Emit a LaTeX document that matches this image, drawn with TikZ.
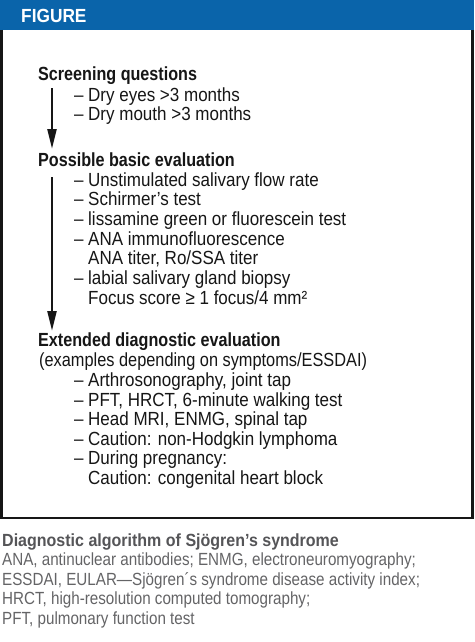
\documentclass[tikz,border=0pt]{standalone}
\usepackage{fontspec}
\setmainfont{Liberation Sans}
\newfontfamily\mreg[FakeStretch=0.895]{Liberation Sans}
\newfontfamily\mregn[FakeStretch=0.86]{Liberation Sans}
\newfontfamily\mbold[FakeStretch=0.85]{Liberation Sans}
\newfontfamily\creg[FakeStretch=0.863]{Liberation Sans}
\newfontfamily\cbold[FakeStretch=0.91]{Liberation Sans}
\usetikzlibrary{arrows.meta}
\definecolor{hdr}{RGB}{10,100,170}
\definecolor{ink}{RGB}{22,22,22}
\definecolor{capgray}{RGB}{100,100,102}
\definecolor{capdark}{RGB}{85,85,88}
\begin{document}
\begin{tikzpicture}[x=1pt,y=-1pt,
  txt/.style={anchor=base west,inner sep=0pt,text=ink,font=\fontsize{19}{20}\mreg},
  hd/.style={txt,font=\fontsize{19}{20}\mbold\bfseries},
  cp/.style={txt,text=capgray,font=\fontsize{17.6}{19}\creg},
  cphd/.style={txt,text=capdark,font=\fontsize{17.6}{19}\cbold\bfseries},
  flow/.style={draw=ink,line width=2.4pt,-{Triangle[length=20pt,width=9pt]}}]
\useasboundingbox (0,0) rectangle (474,642);
\fill[white] (0,0) rectangle (474,642);
\fill[hdr] (0,0) rectangle (474,30);
\draw[draw=ink,line width=2.5pt] (1.25,30) -- (1.25,518) -- (472.5,518) -- (472.5,30);
\node[hd,text=white,font=\fontsize{19}{20}\cbold\bfseries] (fig) at (21,22.5) {FIGURE};
% Screening
\node[hd] (scr) at (38,81) {Screening questions};
\node[txt] (s1d) at (74,101) {–};
\node[txt] (s1) at (88,101) {Dry eyes >3 months};
\node[txt] (s2d) at (74,120) {–};
\node[txt] (s2) at (88,120) {Dry mouth >3 months};
% Basic
\node[hd] (bas) at (38,166) {Possible basic evaluation};
\node[txt] (b1d) at (74,186) {–};
\node[txt] (b1) at (88,186) {Unstimulated salivary flow rate};
\node[txt] (b2d) at (74,205.5) {–};
\node[txt] (b2) at (88,205.5) {Schirmer’s test};
\node[txt] (b3d) at (74,225) {–};
\node[txt] (b3) at (88,225) {lissamine green or fluorescein test};
\node[txt] (b4d) at (74,245) {–};
\node[txt] (b4) at (88,245) {ANA immunofluorescence};
\node[txt] (b5) at (88,264) {ANA titer, Ro/SSA titer};
\node[txt] (b6d) at (74,284) {–};
\node[txt] (b6) at (88,284) {labial salivary gland biopsy};
\node[txt] (b7) at (88,304) {Focus score ≥ 1 focus/4 mm²};
% Extended
\node[hd] (ext) at (38,346.5) {Extended diagnostic evaluation};
\node[txt,font=\fontsize{19}{20}\mregn] (ex0) at (39,366) {(examples depending on symptoms/ESSDAI)};
\node[txt] (e1d) at (74,386.5) {–};
\node[txt] (e1) at (88,386.5) {Arthrosonography, joint tap};
\node[txt] (e2d) at (74,406) {–};
\node[txt] (e2) at (88,406) {PFT, HRCT, 6-minute walking test};
\node[txt] (e3d) at (74,425.5) {–};
\node[txt] (e3) at (88,425.5) {Head MRI, ENMG, spinal tap};
\node[txt] (e4d) at (74,445) {–};
\node[txt] (e4) at (88,445) {Caution: non-Hodgkin lymphoma};
\node[txt] (e5d) at (74,464.5) {–};
\node[txt] (e5) at (88,464.5) {During pregnancy:};
\node[txt] (e6) at (88,484) {Caution: congenital heart block};
% arrows
\coordinate (a1s) at (52,88);
\coordinate (a1e) at (52,149);
\coordinate (a2s) at (52,177);
\coordinate (a2e) at (52,331);
\draw[flow] (a1s) -- (a1e);
\draw[flow] (a2s) -- (a2e);
% caption
\node[cphd] (ct) at (2,546) {Diagnostic algorithm of Sjögren’s syndrome};
\node[cp] (c1) at (2,565.5) {ANA, antinuclear antibodies; ENMG, electroneuromyography;};
\node[cp] (c2) at (2,585) {ESSDAI, EULAR—Sjögren´s syndrome disease activity index;};
\node[cp] (c3) at (2,604.5) {HRCT, high-resolution computed tomography;};
\node[cp] (c4) at (2,624) {PFT, pulmonary function test};
\end{tikzpicture}
\end{document}
